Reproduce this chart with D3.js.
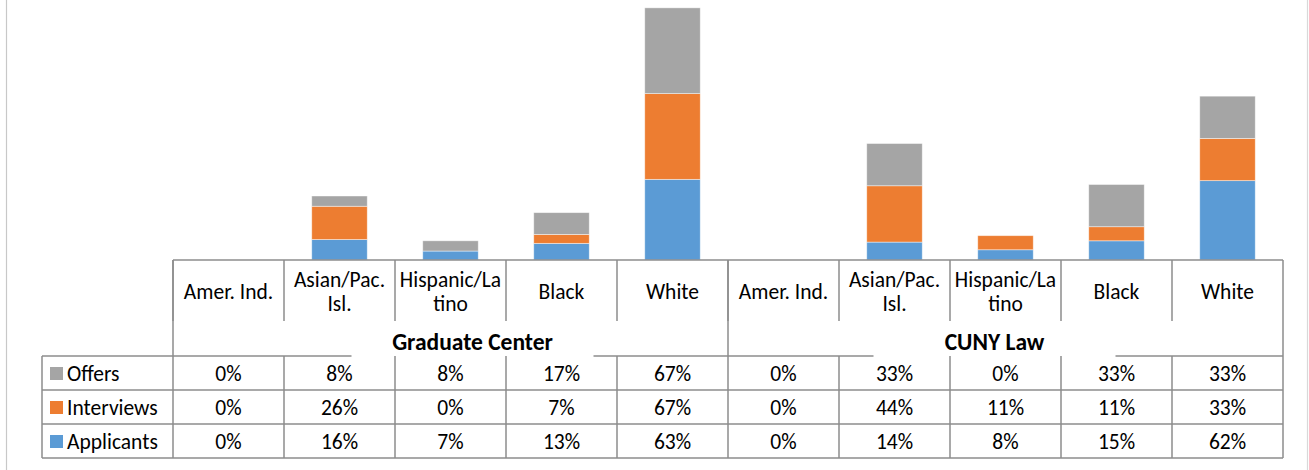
<!DOCTYPE html>
<html>
<head>
<meta charset="utf-8">
<script src="https://cdn.jsdelivr.net/npm/d3@7/dist/d3.min.js"></script>
<style>
  html, body { margin: 0; padding: 0; background: #fff; }
  svg { display: block; }
  text { font-family: Carlito, Calibri, Lato, "Liberation Sans", sans-serif; }
</style>
</head>
<body>
<svg id="chart" width="1309" height="470"></svg>
<script>
// ---- data ----
const groups = ["Graduate Center", "CUNY Law"];
const categories = ["Amer. Ind.", "Asian/Pac. Isl.", "Hispanic/Latino", "Black", "White"];
const categoryLines = [["Amer. Ind."], ["Asian/Pac.", "Isl."], ["Hispanic/La", "tino"], ["Black"], ["White"]];
const seriesNames = ["Applicants", "Interviews", "Offers"];
const applicants = [0, 16, 7, 13, 63, 0, 14, 8, 15, 62];
const interviews = [0, 26, 0, 7, 67, 0, 44, 11, 11, 33];
const offers     = [0, 8, 8, 17, 67, 0, 33, 0, 33, 33];
const colors = ["#5B9BD5", "#ED7D31", "#A5A5A5"];
const tableRowOrder = ["Offers", "Interviews", "Applicants"];

// ---- layout ----
const svg = d3.select("#chart");
const W = 1309, H = 470;
const plotLeft = 173, plotRight = 1283, baseY = 260, topY = 4;
const tableLeft = 42;
const catRowBottom = 321, groupRowBottom = 356, rowH = 34;
const lineColor = "#8c8c8c";
const fs = 21.5;
const gfs = 23.5;

const keys = [];
groups.forEach((g, gi) => categories.forEach((c, ci) => keys.push(gi + "|" + ci)));

const x = d3.scaleBand().domain(keys).range([plotLeft, plotRight]).paddingInner(0.5).paddingOuter(0.25);
const y = d3.scaleLinear().domain([0, 200]).range([baseY, topY]);
const step = x.step();

// outer chart border
svg.append("line").attr("x1", 6.5).attr("x2", 6.5).attr("y1", 0).attr("y2", H).attr("stroke", "#c8c8c8").attr("stroke-width", 1.2);
svg.append("line").attr("x1", 1307.5).attr("x2", 1307.5).attr("y1", 0).attr("y2", H).attr("stroke", "#d9d9d9").attr("stroke-width", 1.2);

// stacked data
const rows = keys.map((k, i) => ({ key: k, Applicants: applicants[i], Interviews: interviews[i], Offers: offers[i] }));
const stack = d3.stack().keys(seriesNames)(rows);

const gBars = svg.append("g");
stack.forEach((layer, si) => {
  gBars.selectAll(null).data(layer).enter().append("rect")
    .attr("x", d => x(d.data.key))
    .attr("width", x.bandwidth())
    .attr("y", d => y(d[1]))
    .attr("height", d => Math.max(0, y(d[0]) - y(d[1])))
    .attr("fill", colors[si])
    .attr("stroke", "#ffffff")
    .attr("stroke-opacity", 0.55)
    .attr("stroke-width", 0.8)
    .style("display", d => (d[1] - d[0]) > 0 ? null : "none");
});

const lines = svg.append("g").attr("stroke", lineColor).attr("stroke-width", 1.5).attr("fill", "none");
function hline(x1, x2, yy) { lines.append("line").attr("x1", x1).attr("x2", x2).attr("y1", yy).attr("y2", yy); }
function vline(xx, y1, y2) { lines.append("line").attr("x1", xx).attr("x2", xx).attr("y1", y1).attr("y2", y2); }

// axis line
hline(plotLeft, plotRight, baseY);

// category label cells
keys.forEach((k, i) => {
  const left = plotLeft + i * step;
  vline(left, baseY, catRowBottom);
});
vline(plotRight, baseY, groupRowBottom);

// group boundaries through group row
groups.forEach((g, gi) => {
  const left = plotLeft + gi * categories.length * step;
  vline(left, baseY, groupRowBottom);
});

// category labels
const catText = svg.append("g").attr("font-size", fs).attr("fill", "#000").attr("text-anchor", "middle");
keys.forEach((k, i) => {
  const ci = +k.split("|")[1];
  const cx = x(k) + x.bandwidth() / 2;
  const lns = categoryLines[ci];
  const lh = 24;
  const cy = (baseY + catRowBottom) / 2 + 8;
  lns.forEach((t, li) => {
    catText.append("text").attr("x", cx).attr("y", cy + (li - (lns.length - 1) / 2) * lh).text(t);
  });
});

// group labels with broken top line of table
const groupOffsets = [22, -11];
const groupCenters = groups.map((g, gi) => {
  const left = plotLeft + gi * categories.length * step;
  return left + categories.length * step / 2 + groupOffsets[gi];
});
groups.forEach((g, gi) => {
  svg.append("text").attr("x", groupCenters[gi]).attr("y", 350)
    .attr("text-anchor", "middle").attr("font-size", gfs).attr("font-weight", "bold").attr("fill", "#000").text(g);
});
const gap = 121;
hline(tableLeft, groupCenters[0] - gap, groupRowBottom);
hline(groupCenters[0] + gap, groupCenters[1] - gap, groupRowBottom);
hline(groupCenters[1] + gap, plotRight, groupRowBottom);

// data table
const tableTop = groupRowBottom;
const tableBottom = tableTop + rowH * 3;
for (let r = 1; r <= 3; r++) hline(tableLeft, plotRight, tableTop + r * rowH);
vline(tableLeft, tableTop, tableBottom);
keys.forEach((k, i) => vline(plotLeft + i * step, tableTop, tableBottom));
vline(plotRight, tableTop, tableBottom);

const valuesBySeries = { Applicants: applicants, Interviews: interviews, Offers: offers };
const tText = svg.append("g").attr("font-size", fs).attr("fill", "#000");
tableRowOrder.forEach((s, r) => {
  const cy = tableTop + r * rowH + rowH / 2;
  const si = seriesNames.indexOf(s);
  svg.append("rect").attr("x", 50).attr("y", cy - 6).attr("width", 13).attr("height", 13).attr("fill", colors[si]);
  tText.append("text").attr("x", 67).attr("y", cy + 8).text(s);
  valuesBySeries[s].forEach((v, i) => {
    const k = keys[i];
    tText.append("text").attr("x", x(k) + x.bandwidth() / 2).attr("y", cy + 8)
      .attr("text-anchor", "middle").text(v + "%");
  });
});
</script>
</body>
</html>
